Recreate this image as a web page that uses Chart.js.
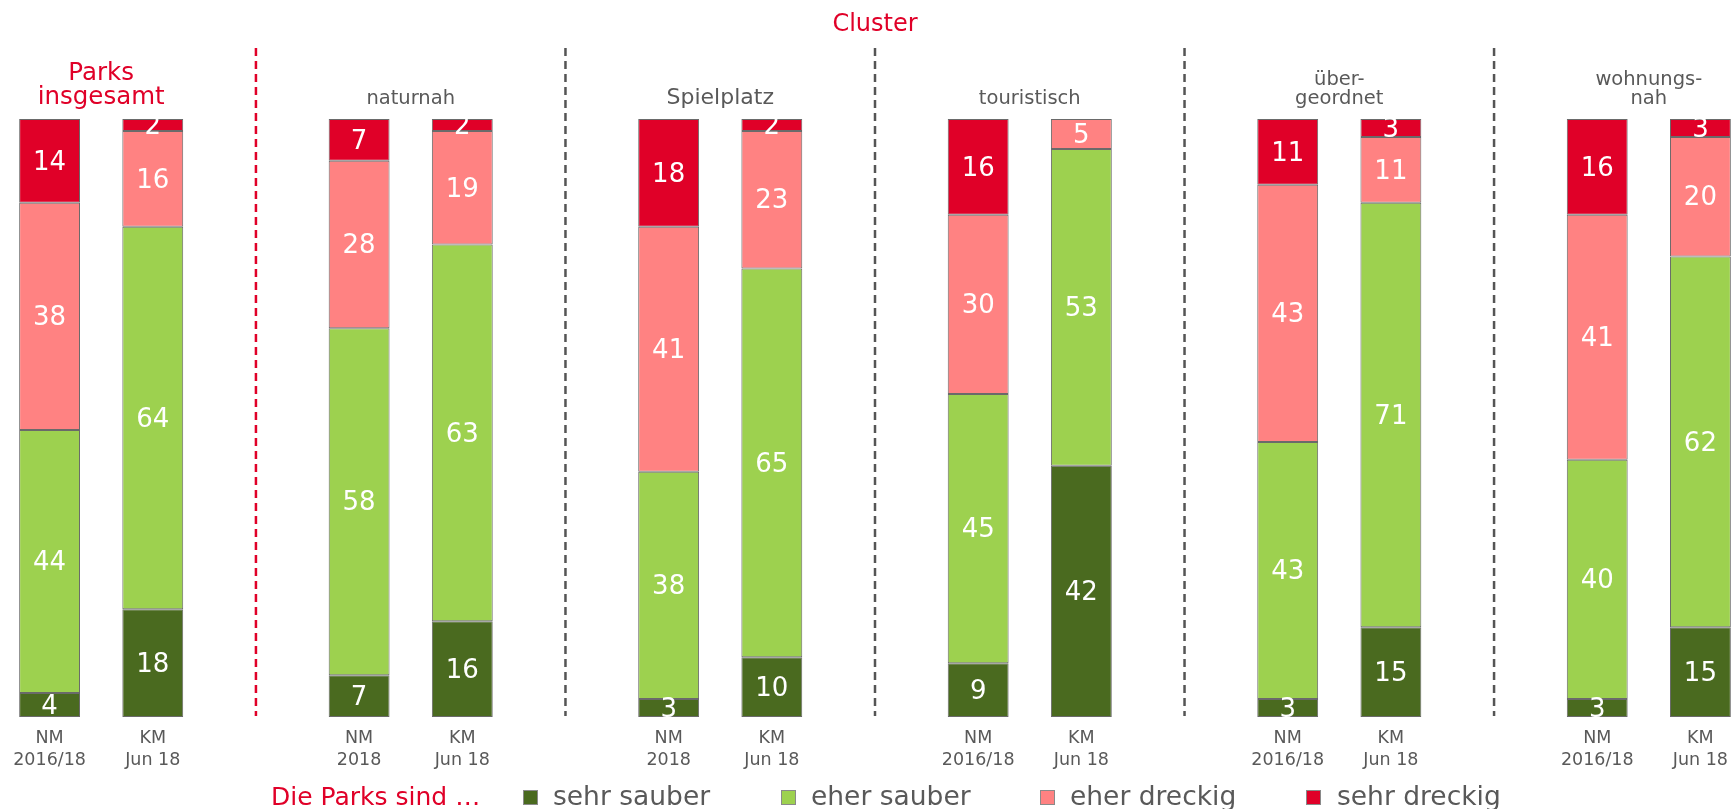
<!DOCTYPE html>
<html>
<head>
<meta charset="utf-8">
<script src="https://cdn.jsdelivr.net/npm/chart.js@4.4.1/dist/chart.umd.min.js"></script>
<style>
html, body { margin: 0; padding: 0; background: #fff; overflow: hidden; }
#wrap { position: absolute; left: -2px; top: 0; width: 1754px; height: 809px; }
</style>
</head>
<body>
<div id="wrap"><canvas id="myChart"></canvas></div>
<script>
// one entry per cluster, two bars each (NM / KM)
const groupTitles = [['Parks', 'insgesamt'], ['naturnah'], ['Spielplatz'], ['touristisch'], ['über-', 'geordnet'], ['wohnungs-', 'nah']]
const periodLabels = [
    ['NM', '2016/18'], ['KM', 'Jun 18'],
    ['NM', '2018'], ['KM', 'Jun 18'],
    ['NM', '2018'], ['KM', 'Jun 18'],
    ['NM', '2016/18'], ['KM', 'Jun 18'],
    ['NM', '2016/18'], ['KM', 'Jun 18'],
    ['NM', '2016/18'], ['KM', 'Jun 18']
]
const sehrSauber  = [4, 18, 7, 16, 3, 10, 9, 42, 3, 15, 3, 15]
const eherSauber  = [44, 64, 58, 63, 38, 65, 45, 53, 43, 71, 40, 62]
const eherDreckig = [38, 16, 28, 19, 41, 23, 30, 5, 43, 11, 41, 20]
const sehrDreckig = [14, 2, 7, 2, 18, 2, 16, 0, 11, 3, 16, 3]
const seriesNames = ['sehr sauber', 'eher sauber', 'eher dreckig', 'sehr dreckig']
const legendTitle = 'Die Parks sind …'
const clusterTitle = 'Cluster'

const RED = '#e00028'
const GREY = '#595959'
const colors = ['#4a6a1f', '#9dd14f', '#ff8282', RED]

// put an empty slot between clusters (the dashed lines sit there)
const withGaps = (arr, gap) => {
    const out = []
    arr.forEach((v, i) => {
        if (i > 0 && i % 2 === 0) out.push(gap)
        out.push(v)
    })
    return out
}
const labels = withGaps(periodLabels, '')
const barSlots = withGaps(periodLabels.map((p, i) => i), null)

const series = [sehrSauber, eherSauber, eherDreckig, sehrDreckig]

Chart.defaults.font.family = '"DejaVu Sans", Verdana, sans-serif'

const decorations = {
    id: 'decorations',
    beforeDatasetsDraw(chart) {
        const ctx = chart.ctx
        const x = chart.scales.x
        ctx.save()
        // dashed separators
        barSlots.forEach((b, i) => {
            if (b !== null) return
            const px = x.getPixelForValue(i)
            ctx.beginPath()
            ctx.setLineDash([8, 5])
            ctx.lineWidth = 2.5
            ctx.strokeStyle = i === 2 ? RED : '#555555'
            ctx.moveTo(px, 48)
            ctx.lineTo(px, 716)
            ctx.stroke()
        })
        ctx.setLineDash([])
        ctx.restore()
    },
    afterDatasetsDraw(chart) {
        const ctx = chart.ctx
        const x = chart.scales.x
        ctx.save()
        // values inside the segments
        ctx.fillStyle = '#ffffff'
        ctx.font = '26px "DejaVu Sans"'
        ctx.textAlign = 'center'
        ctx.textBaseline = 'middle'
        chart.data.datasets.forEach((ds, di) => {
            chart.getDatasetMeta(di).data.forEach((el, i) => {
                const v = ds.data[i]
                if (v === null || v === 0) return
                ctx.fillText(String(v), el.x, (el.y + el.base) / 2 + 2)
            })
        })

        // cluster titles
        groupTitles.forEach((t, g) => {
            const i0 = barSlots.indexOf(g * 2)
            const cx = (x.getPixelForValue(i0) + x.getPixelForValue(i0 + 1)) / 2
            ctx.textBaseline = 'alphabetic'
            if (g === 0) {
                ctx.fillStyle = RED
                ctx.font = '24.5px "DejaVu Sans"'
                ctx.fillText(t[0], cx, 80)
                ctx.fillText(t[1], cx, 104)
            } else {
                ctx.fillStyle = GREY
                ctx.font = (g === 2 ? '22px' : '19.5px') + ' "DejaVu Sans"'
                if (t.length === 2) {
                    ctx.fillText(t[0], cx, 85)
                    ctx.fillText(t[1], cx, 104)
                } else {
                    ctx.fillText(t[0], cx, 104)
                }
            }
        })

        // "Cluster" above the middle separator
        ctx.fillStyle = RED
        ctx.font = '24px "DejaVu Sans"'
        ctx.fillText(clusterTitle, x.getPixelForValue(8), 31)

        // legend
        const off = 2
        ctx.textAlign = 'left'
        ctx.font = '25px "DejaVu Sans"'
        ctx.fillStyle = RED
        ctx.fillText(legendTitle, 271 + off, 805)
        ctx.font = '26.5px "DejaVu Sans"'
        const markerX = [523, 781, 1040, 1306]
        const textX = [553, 811, 1070, 1337]
        seriesNames.forEach((n, k) => {
            ctx.fillStyle = colors[k]
            ctx.fillRect(markerX[k] + off, 790, 15, 15)
            ctx.strokeStyle = '#8a8a8a'
            ctx.lineWidth = 1
            ctx.strokeRect(markerX[k] + off + 0.5, 790.5, 14, 14)
            ctx.fillStyle = GREY
            ctx.fillText(n, textX[k] + off, 805)
        })
        ctx.restore()
    }
}

const ctx = document.getElementById('myChart').getContext('2d')
const myChart = new Chart(ctx, {
    type: 'bar',
    data: {
        labels: labels,
        datasets: series.map((s, k) => ({
            label: seriesNames[k],
            data: withGaps(s, null),
            backgroundColor: colors[k],
            borderColor: '#6a6a6a',
            borderWidth: 1,
            borderSkipped: false,
            stack: 'parks',
            barPercentage: 0.59,
            categoryPercentage: 1
        }))
    },
    options: {
        responsive: true,
        maintainAspectRatio: false,
        animation: false,
        layout: { padding: { top: 119, left: 0, right: 0, bottom: 0 } },
        plugins: {
            legend: { display: false },
            tooltip: { enabled: false }
        },
        scales: {
            x: {
                stacked: true,
                grid: { display: false, drawTicks: false },
                border: { display: false },
                ticks: {
                    autoSkip: false,
                    maxRotation: 0,
                    padding: 10,
                    color: GREY,
                    font: { size: 17.5, lineHeight: 1.28 }
                },
                afterFit: (scale) => { scale.height = 92 }
            },
            y: {
                stacked: true,
                display: false,
                min: 0,
                max: 100
            }
        }
    },
    plugins: [decorations]
})
</script>
</body>
</html>
